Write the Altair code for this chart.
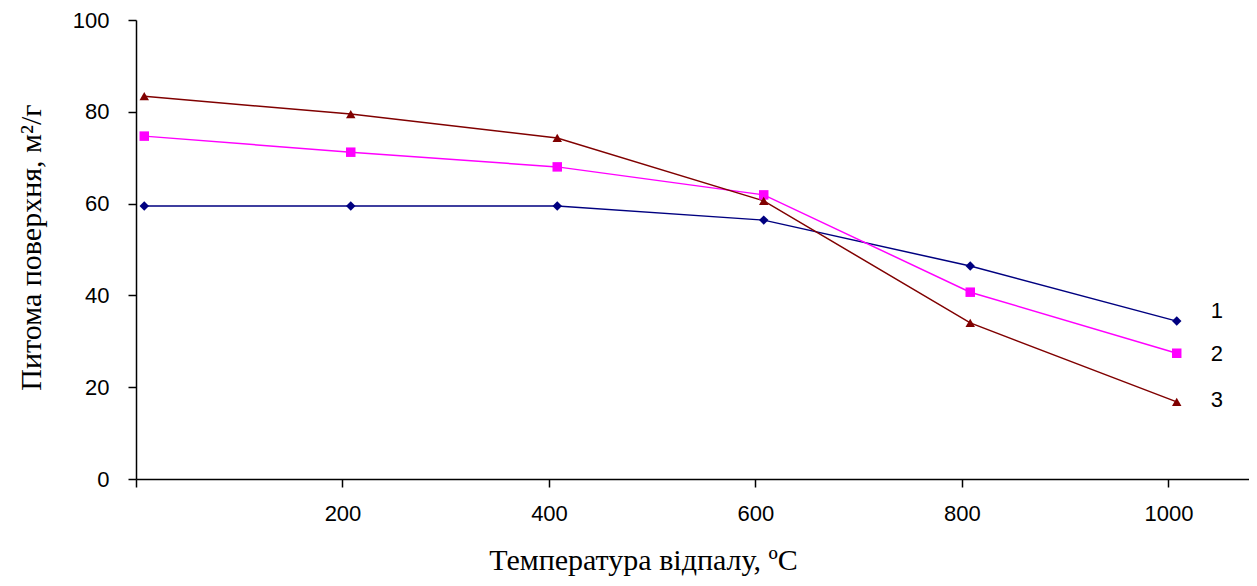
import altair as alt
import pandas as pd

temps = [8, 208, 408, 608, 808, 1008]
s1 = [59.5, 59.5, 59.5, 56.4, 46.4, 34.4]
s2 = [74.7, 71.2, 68.0, 61.9, 40.7, 27.4]
s3 = [83.4, 79.5, 74.3, 60.6, 34.0, 16.8]
series_names = ["1", "2", "3"]
colors = ["#000080", "#FF00FF", "#800000"]
shapes = ["diamond", "square", "triangle-up"]
label_x = [1047, 1047, 1047]
label_y = [36.6, 27.2, 17.2]
x_ticks = [0, 200, 400, 600, 800, 1000]
y_ticks = [0, 20, 40, 60, 80, 100]

rows = []
for name, vals in zip(series_names, [s1, s2, s3]):
    for t, v in zip(temps, vals):
        rows.append({"t": t, "v": v, "s": name})
df = pd.DataFrame(rows)
lab = pd.DataFrame({"x": label_x, "y": label_y, "s": series_names})

W, H = 1113, 459
xs = alt.Scale(domain=[0, 1078], nice=False, zero=False)
ys = alt.Scale(domain=[0, 100], nice=False)
cs = alt.Scale(domain=series_names, range=colors)
ss = alt.Scale(domain=series_names, range=shapes)

x_axis = alt.Axis(values=x_ticks, format="d",
                  labelExpr="datum.value == 0 ? '' : datum.label",
                  grid=False, title="Температура відпалу, ºC",
                  titleFont="Liberation Serif", titleFontSize=30, titleFontWeight="normal",
                  titleColor="black", titleX=507, titleY=90, titleBaseline="alphabetic",
                  titleAlign="center",
                  labelPadding=16, labelFlush=False)
y_axis = alt.Axis(values=y_ticks, grid=False, title="Питома поверхня, м²/г",
                  titleFont="Liberation Serif", titleFontSize=30, titleFontWeight="normal",
                  titleColor="black", titleX=-105, titleY=227, titleAngle=-90,
                  titleAlign="center", titleBaseline="middle",
                  labelPadding=19)

base = alt.Chart(df)
lines = base.mark_line(strokeWidth=1.5).encode(
    x=alt.X("t:Q", scale=xs, axis=x_axis),
    y=alt.Y("v:Q", scale=ys, axis=y_axis),
    color=alt.Color("s:N", scale=cs, legend=None),
    detail="s:N",
)
pts = base.mark_point(filled=True, opacity=1, size=90).encode(
    x=alt.X("t:Q", scale=xs),
    y=alt.Y("v:Q", scale=ys),
    color=alt.Color("s:N", scale=cs, legend=None),
    shape=alt.Shape("s:N", scale=ss, legend=None),
)
labels = alt.Chart(lab).mark_text(font="Liberation Sans", fontSize=22, color="black",
                                  align="center", baseline="middle").encode(
    x=alt.X("x:Q", scale=xs),
    y=alt.Y("y:Q", scale=ys),
    text="s:N",
)

chart = (lines + pts + labels).properties(
    width=W, height=H,
    background="white",
    autosize=alt.AutoSizeParams(type="none"),
    padding={"left": 128, "top": 12, "right": 0, "bottom": 99},
).configure_view(stroke=None).configure_axis(
    domainColor="black", domainWidth=1.5, tickColor="black", tickWidth=1.5,
    tickSize=8, labelFont="Liberation Sans", labelFontSize=22, labelColor="black",
)

chart.save("out.html", embed_options={"renderer": "svg", "actions": False})
